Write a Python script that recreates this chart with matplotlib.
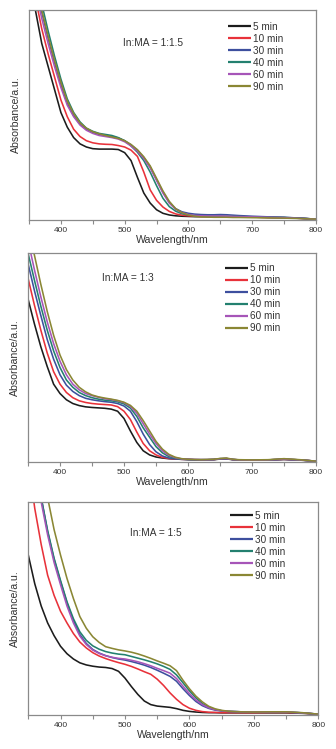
import matplotlib
matplotlib.use("Agg")
import matplotlib.pyplot as plt
from matplotlib.ticker import MultipleLocator

plt.rcParams['font.family'] = ['Liberation Sans', 'DejaVu Sans']

wavelength = [350, 360, 370, 380, 390, 400, 410, 420, 430, 440, 450, 460, 470, 480, 490,
              500, 510, 520, 530, 540, 550, 560, 570, 580, 590, 600, 610, 620, 630, 640,
              650, 660, 670, 680, 700, 725, 750, 775, 800]

labels = ["5 min", "10 min", "30 min", "40 min", "60 min", "90 min"]
colors = ["#1c1c1c", "#e8323a", "#3d4f9e", "#23806f", "#a655b8", "#8a8734"]
titles = ["In:MA = 1:1.5", "In:MA = 1:3", "In:MA = 1:5"]

# ---- Panel 1: In:MA = 1:1.5 ----
p1_5 = [1.15, 1.0, 0.84, 0.73, 0.62, 0.51, 0.44, 0.39, 0.36, 0.345, 0.337, 0.335, 0.335, 0.335, 0.333,
        0.318, 0.28, 0.2, 0.125, 0.077, 0.045, 0.028, 0.02, 0.016, 0.014, 0.013, 0.012, 0.012, 0.012, 0.012,
        0.012, 0.012, 0.011, 0.011, 0.01, 0.008, 0.007, 0.004, 0.0]
p1_10 = [1.22, 1.06, 0.91, 0.79, 0.68, 0.57, 0.49, 0.43, 0.395, 0.375, 0.365, 0.36, 0.358, 0.357, 0.352,
         0.345, 0.33, 0.30, 0.225, 0.14, 0.09, 0.058, 0.037, 0.025, 0.019, 0.016, 0.014, 0.013, 0.013, 0.013,
         0.013, 0.012, 0.012, 0.011, 0.01, 0.008, 0.007, 0.004, 0.0]
p1_30 = [1.3, 1.14, 0.99, 0.865, 0.75, 0.645, 0.555, 0.495, 0.455, 0.43, 0.415, 0.405, 0.40, 0.395, 0.388,
         0.375, 0.355, 0.33, 0.295, 0.25, 0.19, 0.13, 0.08, 0.05, 0.035, 0.028, 0.024, 0.022, 0.021, 0.021,
         0.022, 0.021, 0.019, 0.017, 0.014, 0.011, 0.009, 0.005, 0.0]
p1_40 = [1.35, 1.18, 1.03, 0.90, 0.78, 0.67, 0.575, 0.51, 0.465, 0.435, 0.42, 0.41, 0.405, 0.40, 0.39,
         0.375, 0.35, 0.32, 0.28, 0.225, 0.16, 0.10, 0.06, 0.038, 0.026, 0.02, 0.017, 0.015, 0.014, 0.014,
         0.014, 0.013, 0.013, 0.012, 0.011, 0.009, 0.008, 0.005, 0.0]
p1_60 = [1.25, 1.1, 0.96, 0.84, 0.73, 0.63, 0.545, 0.49, 0.45, 0.425, 0.41, 0.40, 0.395, 0.39, 0.383,
         0.37, 0.35, 0.325, 0.29, 0.245, 0.185, 0.125, 0.077, 0.047, 0.031, 0.022, 0.018, 0.016, 0.015, 0.015,
         0.015, 0.014, 0.013, 0.012, 0.011, 0.009, 0.007, 0.004, 0.0]
p1_90 = [1.3, 1.15, 1.0, 0.875, 0.76, 0.655, 0.565, 0.505, 0.46, 0.435, 0.418, 0.408, 0.40, 0.393, 0.386,
         0.375, 0.357, 0.332, 0.298, 0.255, 0.195, 0.135, 0.085, 0.05, 0.031, 0.02, 0.014, 0.011, 0.01, 0.009,
         0.009, 0.009, 0.008, 0.008, 0.007, 0.006, 0.005, 0.003, 0.0]

# ---- Panel 2: In:MA = 1:3 ----
p2_5 = [0.78, 0.66, 0.55, 0.455, 0.37, 0.325, 0.295, 0.277, 0.267, 0.261, 0.258, 0.256, 0.254, 0.25, 0.24,
        0.205, 0.145, 0.09, 0.05, 0.03, 0.02, 0.015, 0.012, 0.01, 0.009, 0.008, 0.007, 0.007, 0.007, 0.007,
        0.01, 0.011, 0.007, 0.006, 0.005, 0.005, 0.008, 0.005, 0.0]
p2_10 = [0.88, 0.75, 0.63, 0.52, 0.43, 0.37, 0.33, 0.305, 0.29, 0.282, 0.277, 0.274, 0.272, 0.27, 0.262,
         0.24, 0.2, 0.14, 0.085, 0.05, 0.03, 0.018, 0.013, 0.01, 0.009, 0.008, 0.007, 0.007, 0.007, 0.008,
         0.011, 0.012, 0.008, 0.006, 0.005, 0.006, 0.009, 0.006, 0.0]
p2_30 = [0.95, 0.82, 0.70, 0.585, 0.49, 0.415, 0.365, 0.335, 0.315, 0.302, 0.295, 0.29, 0.286, 0.283, 0.277,
         0.265, 0.24, 0.19, 0.13, 0.08, 0.045, 0.025, 0.015, 0.011, 0.009, 0.008, 0.007, 0.007, 0.007, 0.008,
         0.011, 0.012, 0.008, 0.006, 0.005, 0.006, 0.009, 0.006, 0.0]
p2_40 = [1.0, 0.87, 0.745, 0.63, 0.53, 0.45, 0.39, 0.355, 0.33, 0.315, 0.305, 0.298, 0.293, 0.29, 0.285,
         0.275, 0.255, 0.215, 0.16, 0.115, 0.07, 0.04, 0.022, 0.014, 0.01, 0.008, 0.007, 0.007, 0.007, 0.008,
         0.012, 0.013, 0.008, 0.006, 0.005, 0.006, 0.01, 0.006, 0.0]
p2_60 = [1.06, 0.92, 0.79, 0.67, 0.565, 0.48, 0.415, 0.37, 0.343, 0.325, 0.315, 0.307, 0.3, 0.296, 0.29,
         0.281, 0.263, 0.23, 0.18, 0.13, 0.085, 0.05, 0.028, 0.017, 0.011, 0.009, 0.008, 0.007, 0.007, 0.008,
         0.012, 0.013, 0.008, 0.006, 0.005, 0.006, 0.01, 0.006, 0.0]
p2_90 = [1.12, 0.99, 0.85, 0.72, 0.605, 0.51, 0.44, 0.39, 0.355, 0.333, 0.318, 0.309, 0.303, 0.298, 0.292,
         0.283, 0.268, 0.24, 0.195, 0.145, 0.095, 0.058, 0.033, 0.019, 0.012, 0.009, 0.008, 0.007, 0.008, 0.009,
         0.013, 0.015, 0.009, 0.007, 0.006, 0.007, 0.012, 0.007, 0.0]

# ---- Panel 3: In:MA = 1:5 ----
p3_5 = [0.75, 0.615, 0.51, 0.43, 0.37, 0.32, 0.285, 0.26, 0.242, 0.232, 0.226, 0.222, 0.22, 0.215, 0.202,
        0.17, 0.13, 0.093, 0.062, 0.045, 0.038, 0.035, 0.032, 0.026, 0.018, 0.013, 0.01, 0.008, 0.007, 0.007,
        0.006, 0.006, 0.006, 0.006, 0.006, 0.006, 0.006, 0.004, 0.0]
p3_10 = [1.2, 0.97, 0.80, 0.655, 0.56, 0.485, 0.43, 0.38, 0.34, 0.312, 0.29, 0.274, 0.262, 0.252, 0.243,
         0.235, 0.225, 0.213, 0.2, 0.188, 0.165, 0.135, 0.1, 0.07, 0.045, 0.028, 0.018, 0.012, 0.009, 0.008,
         0.007, 0.007, 0.007, 0.007, 0.007, 0.008, 0.008, 0.005, 0.0]
p3_30 = [1.4, 1.2, 1.02, 0.86, 0.73, 0.625, 0.525, 0.44, 0.375, 0.333, 0.305, 0.288, 0.276, 0.267, 0.26,
         0.255, 0.248, 0.24, 0.231, 0.22, 0.207, 0.193, 0.178, 0.155, 0.12, 0.088, 0.06, 0.04, 0.027, 0.019,
         0.015, 0.013, 0.012, 0.011, 0.01, 0.01, 0.01, 0.006, 0.0]
p3_40 = [1.4, 1.2, 1.02, 0.865, 0.735, 0.63, 0.53, 0.45, 0.388, 0.348, 0.322, 0.306, 0.295, 0.288, 0.283,
         0.28, 0.272, 0.264, 0.256, 0.247, 0.237, 0.225, 0.211, 0.185, 0.148, 0.11, 0.077, 0.05, 0.033, 0.022,
         0.016, 0.013, 0.012, 0.011, 0.01, 0.01, 0.01, 0.006, 0.0]
p3_60 = [1.38, 1.18, 1.0, 0.845, 0.715, 0.61, 0.51, 0.43, 0.368, 0.328, 0.302, 0.286, 0.275, 0.268, 0.263,
         0.26, 0.254, 0.247, 0.238, 0.228, 0.216, 0.205, 0.193, 0.168, 0.132, 0.097, 0.067, 0.045, 0.03, 0.021,
         0.016, 0.013, 0.012, 0.011, 0.01, 0.01, 0.01, 0.006, 0.0]
p3_90 = [1.7, 1.45, 1.22, 1.02, 0.87, 0.75, 0.64, 0.545, 0.46, 0.405, 0.365, 0.338, 0.318, 0.31, 0.303,
         0.298, 0.292, 0.284, 0.274, 0.263, 0.251, 0.24, 0.228, 0.205, 0.16, 0.12, 0.085, 0.058, 0.037, 0.025,
         0.018, 0.014, 0.012, 0.011, 0.01, 0.011, 0.011, 0.007, 0.0]

panels = [
    [p1_5, p1_10, p1_30, p1_40, p1_60, p1_90],
    [p2_5, p2_10, p2_30, p2_40, p2_60, p2_90],
    [p3_5, p3_10, p3_30, p3_40, p3_60, p3_90],
]

# layout (figure fractions)
axes_rect = [
    [29 / 336, (749 - 220) / 749, 287 / 336, 210 / 749],
    [28 / 336, (749 - 462) / 749, 288 / 336, 209 / 749],
    [28.3 / 336, (749 - 715) / 749, 290 / 336, 213 / 749],
]
title_pos = [(0.328, 0.843), (0.256, 0.879), (0.35, 0.853)]
legend_pos = [(0.693, 0.945), (0.684, 0.95), (0.695, 0.96)]

fig = plt.figure(figsize=(3.36, 7.49), dpi=100)
spine_col = "#8a8a8a"
text_col = "#333333"

for i, series in enumerate(panels):
    ax = fig.add_axes(axes_rect[i])
    for vals, lab, col in zip(series, labels, colors):
        ax.plot(wavelength, vals, color=col, lw=1.15, label=lab, solid_capstyle='butt')
    ax.set_xlim(350, 800)
    ax.set_ylim(-0.004, 1.0)
    ax.xaxis.set_minor_locator(MultipleLocator(50))
    ax.set_xticks([400, 500, 600, 700, 800])
    ax.tick_params(axis='x', which='both', direction='out', length=3, width=0.8,
                   colors=spine_col, labelcolor=text_col, labelsize=6, pad=2)
    ax.tick_params(axis='y', left=False, labelleft=False)
    for s in ax.spines.values():
        s.set_color(spine_col)
        s.set_linewidth(0.9)
    ax.set_xlabel("Wavelength/nm", fontsize=7.6, color=text_col, labelpad=1)
    ax.set_ylabel("Absorbance/a.u.", fontsize=7.6, color=text_col, labelpad=6)
    ax.text(title_pos[i][0], title_pos[i][1], titles[i], transform=ax.transAxes,
            fontsize=7.3, color=text_col, ha='left', va='center')
    leg = ax.legend(loc='upper left', bbox_to_anchor=legend_pos[i], frameon=False,
                    fontsize=7.2, handlelength=2.3, handletextpad=0.25, labelspacing=0.2,
                    borderpad=0, borderaxespad=0)
    for t in leg.get_texts():
        t.set_color(text_col)
    for h in leg.get_lines():
        h.set_linewidth(1.6)

fig.savefig("out.png", dpi=100)
